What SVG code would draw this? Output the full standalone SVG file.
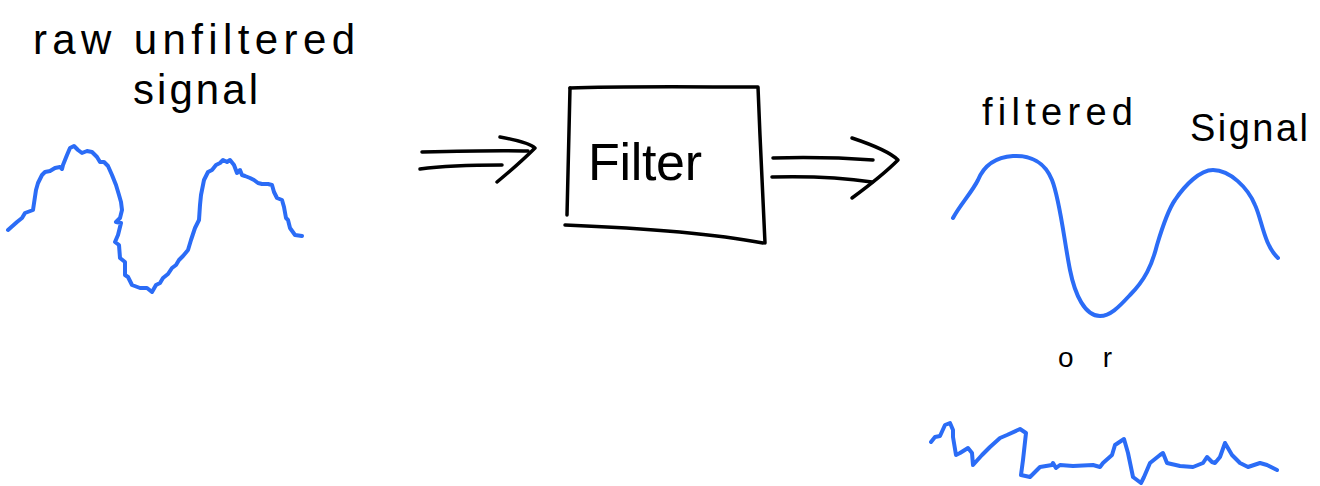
<svg xmlns="http://www.w3.org/2000/svg" width="1320" height="486" viewBox="0 0 1320 486">
<style>
  .ink { fill: none; stroke: #000; stroke-width: 3.5; stroke-linecap: round; stroke-linejoin: round; }
  .wave { fill: none; stroke: #2b6cf6; stroke-width: 4; stroke-linecap: round; stroke-linejoin: round; }
  .hand { font-family: "Liberation Sans", Arial, sans-serif; fill: #000; }
</style>
<rect width="1320" height="486" fill="#fff"/>

<g id="raw-signal">
  <text class="hand" x="33" y="54" font-size="42" textLength="322" lengthAdjust="spacing">raw unfiltered</text>
  <text class="hand" x="133" y="104" font-size="42" textLength="125" lengthAdjust="spacing">signal</text>
  <polyline class="wave" points="8,230 17,222 22,218 25,213 33,210 36,190 38,183 42,175 45,172 50,171 55,168 60,167 62,169 63,165 65,160 67,155 70,148 74,146 78,150 82,153 87,151 92,152 97,157 100,162 104,162 108,166 112,175 116,185 119,195 121,202 122,210 120,218 116,222 121,223 118,235 115,242 119,245 120,258 125,262 125,275 128,277 132,285 140,288 147,288 152,292 156,285 160,283 163,278 168,274 172,268 176,265 179,260 183,256 188,250 191,240 195,228 199,220 200,205 201,195 204,180 208,172 212,170 216,165 220,163 223,160 227,162 230,160 234,165 237,173 240,170 242,175 245,176 250,178 254,180 258,183 262,184 268,184 272,185 274,192 277,198 282,200 284,207 286,218 288,220 290,228 295,235 302,236"/>
</g>

<g id="filter">
  <path class="ink" d="M570,88 C620,86 700,87 758,87 C760,140 763,200 765,243"/>
  <path class="ink" d="M570,88 C569,130 568,175 567,215"/>
  <path class="ink" d="M565,225 C640,228 710,233 763,243"/>
  <text class="hand" x="588" y="180" font-size="52" textLength="114" lengthAdjust="spacing">Filter</text>
</g>

<g id="filtered-signal">
  <text class="hand" x="982" y="125" font-size="38" textLength="151" lengthAdjust="spacing">filtered</text>
  <text class="hand" x="1190" y="141" font-size="38" textLength="118" lengthAdjust="spacing">Signal</text>
  <path class="wave" d="M953,218 C960,205 972,192 978,180 C985,163 998,157 1013,156 C1030,155 1045,162 1052,180 C1060,200 1064,240 1070,270 C1075,295 1085,316 1100,316 C1110,316 1118,308 1130,295 C1145,280 1152,265 1157,245 C1163,225 1168,210 1175,200 C1185,185 1200,170 1213,170 C1230,170 1248,188 1255,205 C1262,220 1264,245 1278,258"/>
</g>

<g id="or-label">
  <text class="hand" x="1058" y="367" font-size="28" textLength="54" lengthAdjust="spacing">or</text>
</g>

<g id="noisy-signal">
  <polyline class="wave" points="931,442 935,437 940,436 945,425 950,423 953,430 953,437 956,455 960,453 968,448 972,453 973,465 982,455 990,447 1000,438 1007,435 1020,429 1026,433 1023,460 1021,475 1030,477 1040,467 1052,465 1053,463 1056,468 1060,465 1073,466 1093,465 1100,467 1103,463 1112,455 1115,445 1124,439 1128,453 1133,477 1141,483 1144,477 1150,463 1160,455 1163,453 1167,463 1180,466 1193,467 1203,463 1207,457 1212,462 1215,463 1220,457 1225,443 1232,455 1240,463 1248,467 1260,463 1267,465 1277,470"/>
</g>

<g id="connectors">
  <g id="arrow-in">
    <path class="ink" d="M422,152 C460,151 500,150 528,151"/>
    <path class="ink" d="M420,169 C450,165 480,165 502,165"/>
    <path class="ink" d="M500,137 Q528,142 535,148 Q520,163 497,182"/>
  </g>
  <g id="arrow-out">
    <path class="ink" d="M773,158 C810,157 845,158 873,160"/>
    <path class="ink" d="M772,177 C810,176 845,178 872,182"/>
    <path class="ink" d="M852,138 Q888,150 898,160 Q882,176 852,198"/>
  </g>
</g>
</svg>
